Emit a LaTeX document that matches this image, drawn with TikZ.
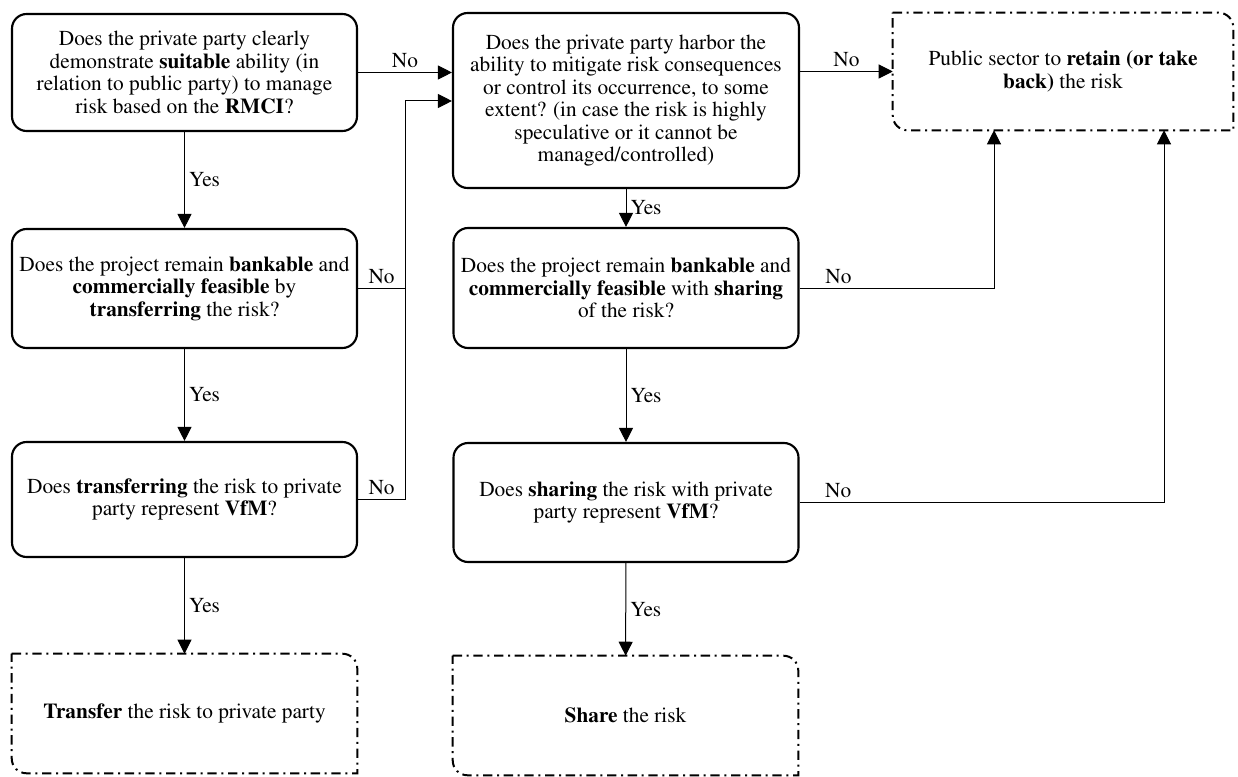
\documentclass[tikz,border=0pt]{standalone}
\usepackage[T1]{fontenc}
\usepackage{times}
\usetikzlibrary{arrows.meta, positioning}

\begin{document}
\begin{tikzpicture}[
    x=0.75pt, y=-0.75pt,
    every node/.style={font=\rmfamily\fontsize{16}{16.9}\selectfont},
    question/.style={draw, line width=1.6pt, rounded corners=11pt, align=center, minimum width=258.75pt, inner sep=0pt},
    outcome/.style={align=center, minimum width=258.75pt, minimum height=89.25pt, inner sep=0pt},
    endline/.style={line width=1.5pt, dash pattern=on 7pt off 3.5pt on 1.5pt off 3.5pt},
    arrow/.style={-{Triangle[length=10.5pt, width=10.5pt]}, line width=0.75pt},
    link/.style={line width=0.75pt},
    lbl/.style={inner sep=3pt}
]
    \useasboundingbox (0,0) rectangle (1238,777);

    % left column: transfer
    \node[question, minimum height=87.75pt] (suitable) at (184.5,72.5) {Does the private party clearly\\demonstrate \textbf{suitable} ability (in\\relation to public party) to manage\\risk based on the \textbf{RMCI}?};
    \node[question, minimum height=89.25pt] (bankT) at (184.5,288.5) {Does the project remain \textbf{bankable} and\\\textbf{commercially feasible} by\\\textbf{transferring} the risk?};
    \node[question, minimum height=86.25pt] (vfmT) at (184.5,499.5) {Does \textbf{transferring} the risk to private\\party represent \textbf{VfM}?};
    \node[outcome] (transfer) at (184.5,713.5) {\textbf{Transfer} the risk to private party};

    % middle column: share
    \node[question, minimum height=131.25pt, minimum width=259.5pt] (mitigate) at (626,100.5) {Does the private party harbor the\\ability to mitigate risk consequences\\or control its occurrence, to some\\extent? (in case the risk is highly\\speculative or it cannot be\\managed/controlled)};
    \node[question, minimum height=90pt] (bankS) at (626,288) {Does the project remain \textbf{bankable} and\\\textbf{commercially feasible} with \textbf{sharing}\\of the risk?};
    \node[question, minimum height=89.25pt] (vfmS) at (626,502.5) {Does \textbf{sharing} the risk with private\\party represent \textbf{VfM}?};
    \node[outcome] (share) at (625.5,715.5) {\textbf{Share} the risk};

    % right: retain
    \node[outcome, minimum width=255pt, minimum height=87.75pt] (retain) at (1063,71.5) {Public sector to \textbf{retain (or take}\\\textbf{back)} the risk};

    \foreach \n in {transfer, share, retain}
        \draw[endline] (\n.north west) -- ([xshift=-11pt]\n.north east) arc[start angle=90, end angle=0, radius=11pt]
            -- (\n.south east) -- ([xshift=11pt]\n.south west) arc[start angle=270, end angle=180, radius=11pt] -- cycle;

    \coordinate (merge) at (405,101);
    \coordinate (upF) at (994,0);
    \coordinate (upG) at (1164,0);

    \draw[arrow] (suitable) -- node[lbl, right] {Yes} (bankT);
    \draw[arrow] (bankT) -- node[lbl, right] {Yes} (vfmT);
    \draw[arrow] (vfmT) -- node[lbl, right] {Yes} (transfer);
    \draw[arrow] (suitable.east) -- node[lbl, above] {No} (suitable.east -| mitigate.west);
    \draw[arrow] (bankT.east) -| node[lbl, above, pos=0.25] {No} (merge) -- (merge -| mitigate.west);
    \draw[link] (vfmT.east) -| node[lbl, above, pos=0.25] {No} (merge);

    \draw[arrow] (mitigate) -- node[lbl, right] {Yes} (bankS);
    \draw[arrow] (bankS) -- node[lbl, right] {Yes} (vfmS);
    \draw[arrow] (vfmS) -- node[lbl, right] {Yes} (share);
    \draw[arrow] (mitigate.east |- retain.west) -- node[lbl, above] {No} (retain.west);
    \draw[arrow] (bankS.east) -| node[lbl, above, pos=0.1] {No} (retain.south -| upF);
    \draw[arrow] (vfmS.east) -| node[lbl, above, pos=0.053] {No} (retain.south -| upG);
\end{tikzpicture}
\end{document}
